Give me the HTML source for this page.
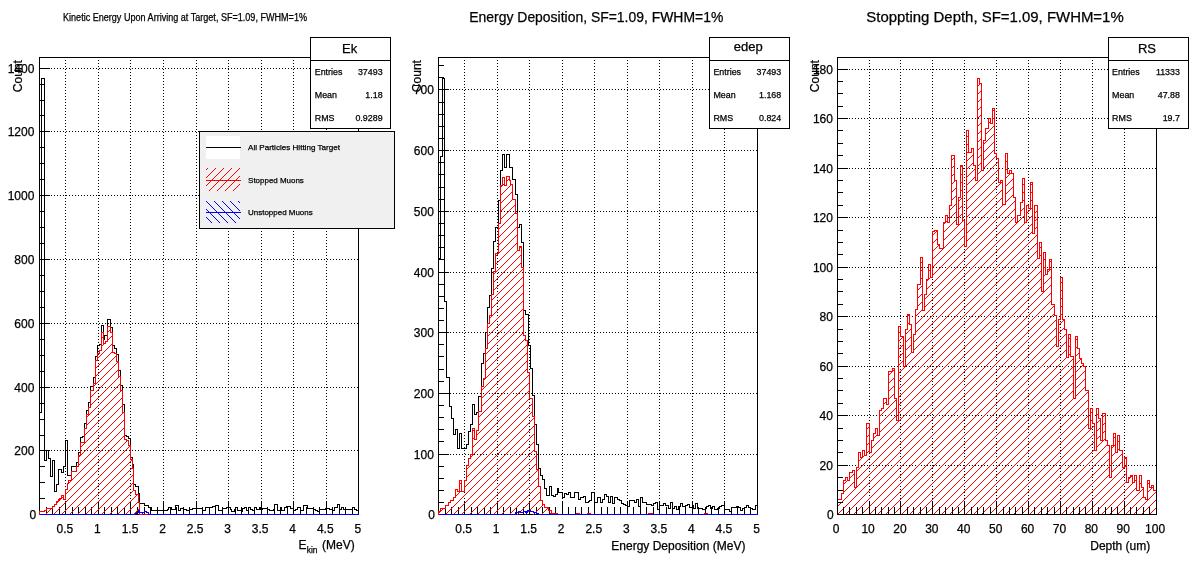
<!DOCTYPE html>
<html lang="en"><head><meta charset="utf-8"><title>Muon stopping histograms</title>
<style>html,body{margin:0;padding:0;background:#fff;}body{width:1196px;height:572px;overflow:hidden;}svg{display:block;}text{font-family:'Liberation Sans', Arial, Helvetica, sans-serif;fill:#000;stroke:#000;stroke-width:0.25px;}</style>
</head><body>
<svg width="1196" height="572" viewBox="0 0 1196 572">
<defs>
<pattern id="hr" width="8" height="8" patternUnits="userSpaceOnUse"><path d="M-1 9L9 -1M-9 9L1 -1M7 17L17 7" stroke="#f00" stroke-width="1" shape-rendering="crispEdges" fill="none"/></pattern>
<pattern id="hb" width="8" height="8" patternUnits="userSpaceOnUse" patternTransform="translate(5,0)"><path d="M-1 -1L9 9M-9 -1L1 9M7 -9L17 1" stroke="#00f" stroke-width="1" shape-rendering="crispEdges" fill="none"/></pattern>
</defs>
<rect width="1196" height="572" fill="#fff"/>
<g shape-rendering="crispEdges">
<rect x="39" y="57" width="320" height="1" fill="#000"/>
<rect x="39" y="514" width="320" height="1" fill="#000"/>
<rect x="39" y="57" width="1" height="458" fill="#000"/>
<rect x="358" y="57" width="1" height="458" fill="#000"/>
<g stroke="#000" stroke-width="1" stroke-dasharray="1 2" fill="none"><line x1="65.5" y1="57" x2="65.5" y2="514"/><line x1="98.5" y1="57" x2="98.5" y2="514"/><line x1="130.5" y1="57" x2="130.5" y2="514"/><line x1="163.5" y1="57" x2="163.5" y2="514"/><line x1="196.5" y1="57" x2="196.5" y2="514"/><line x1="228.5" y1="57" x2="228.5" y2="514"/><line x1="261.5" y1="57" x2="261.5" y2="514"/><line x1="293.5" y1="57" x2="293.5" y2="514"/><line x1="326.5" y1="57" x2="326.5" y2="514"/><line x1="39" y1="450.5" x2="358" y2="450.5"/><line x1="39" y1="387.5" x2="358" y2="387.5"/><line x1="39" y1="323.5" x2="358" y2="323.5"/><line x1="39" y1="259.5" x2="358" y2="259.5"/><line x1="39" y1="195.5" x2="358" y2="195.5"/><line x1="39" y1="131.5" x2="358" y2="131.5"/><line x1="39" y1="68.5" x2="358" y2="68.5"/></g>
</g>
<g shape-rendering="crispEdges">
<rect x="438" y="57" width="320" height="1" fill="#000"/>
<rect x="438" y="514" width="320" height="1" fill="#000"/>
<rect x="438" y="57" width="1" height="458" fill="#000"/>
<rect x="757" y="57" width="1" height="458" fill="#000"/>
<g stroke="#000" stroke-width="1" stroke-dasharray="1 2" fill="none"><line x1="464.5" y1="57" x2="464.5" y2="514"/><line x1="497.5" y1="57" x2="497.5" y2="514"/><line x1="529.5" y1="57" x2="529.5" y2="514"/><line x1="562.5" y1="57" x2="562.5" y2="514"/><line x1="594.5" y1="57" x2="594.5" y2="514"/><line x1="627.5" y1="57" x2="627.5" y2="514"/><line x1="659.5" y1="57" x2="659.5" y2="514"/><line x1="692.5" y1="57" x2="692.5" y2="514"/><line x1="724.5" y1="57" x2="724.5" y2="514"/><line x1="438" y1="454.5" x2="757" y2="454.5"/><line x1="438" y1="393.5" x2="757" y2="393.5"/><line x1="438" y1="332.5" x2="757" y2="332.5"/><line x1="438" y1="272.5" x2="757" y2="272.5"/><line x1="438" y1="211.5" x2="757" y2="211.5"/><line x1="438" y1="150.5" x2="757" y2="150.5"/><line x1="438" y1="89.5" x2="757" y2="89.5"/></g>
</g>
<g shape-rendering="crispEdges">
<rect x="837" y="57" width="320" height="1" fill="#000"/>
<rect x="837" y="514" width="320" height="1" fill="#000"/>
<rect x="837" y="57" width="1" height="458" fill="#000"/>
<rect x="1156" y="57" width="1" height="458" fill="#000"/>
<g stroke="#000" stroke-width="1" stroke-dasharray="1 2" fill="none"><line x1="869.5" y1="57" x2="869.5" y2="514"/><line x1="900.5" y1="57" x2="900.5" y2="514"/><line x1="932.5" y1="57" x2="932.5" y2="514"/><line x1="964.5" y1="57" x2="964.5" y2="514"/><line x1="996.5" y1="57" x2="996.5" y2="514"/><line x1="1028.5" y1="57" x2="1028.5" y2="514"/><line x1="1060.5" y1="57" x2="1060.5" y2="514"/><line x1="1092.5" y1="57" x2="1092.5" y2="514"/><line x1="1124.5" y1="57" x2="1124.5" y2="514"/><line x1="837" y1="465.5" x2="1156" y2="465.5"/><line x1="837" y1="415.5" x2="1156" y2="415.5"/><line x1="837" y1="366.5" x2="1156" y2="366.5"/><line x1="837" y1="316.5" x2="1156" y2="316.5"/><line x1="837" y1="267.5" x2="1156" y2="267.5"/><line x1="837" y1="217.5" x2="1156" y2="217.5"/><line x1="837" y1="168.5" x2="1156" y2="168.5"/><line x1="837" y1="118.5" x2="1156" y2="118.5"/><line x1="837" y1="69.5" x2="1156" y2="69.5"/></g>
</g>
<g shape-rendering="crispEdges">
<path d="M39.5 514.5V412.5H41.5V78.5H44.5V460.5H46.5V450.5H48.5V458.5H50.5V476.5H52.5V460.5H54.5V491.5H56.5V484.5H58.5V469.5H61.5V472.5H63.5V466.5H65.5V440.5H67.5V475.5H71.5V466.5H76.5V462.5H78.5V452.5H80.5V437.5H82.5V436.5H84.5V423.5H86.5V410.5H88.5V402.5H90.5V386.5H93.5V377.5H95.5V356.5H97.5V345.5H99.5V344.5H101.5V325.5H103.5V339.5H104.5V335.5H107.5V319.5H110.5V327.5H112.5V345.5H114.5V348.5H116.5V354.5H118.5V370.5H120.5V385.5H122.5V404.5H124.5V435.5H126.5V436.5H128.5V438.5H130.5V457.5H132.5V464.5H133.5V484.5H135.5V486.5H138.5V493.5H139.5V503.5H144.5V505.5H148.5V507.5H151.5V510.5H167.5V509.5H168.5V507.5H171.5V509.5H175.5V505.5H178.5V510.5H180.5V508.5H183.5V509.5H186.5V510.5H189.5V509.5H192.5V508.5H202.5V510.5H205.5V507.5H212.5V506.5H215.5V505.5H218.5V510.5H222.5V508.5H226.5V507.5H230.5V509.5H231.5V511.5H234.5V509.5H235.5V507.5H237.5V510.5H241.5V511.5H242.5V508.5H244.5V507.5H246.5V510.5H248.5V507.5H250.5V509.5H252.5V510.5H254.5V507.5H256.5V509.5H259.5V507.5H260.5V509.5H262.5V508.5H267.5V509.5H269.5V510.5H273.5V509.5H274.5V504.5H277.5V510.5H280.5V507.5H281.5V510.5H284.5V507.5H286.5V506.5H290.5V508.5H293.5V510.5H295.5V509.5H297.5V507.5H300.5V510.5H303.5V505.5H307.5V508.5H313.5V509.5H315.5V510.5H317.5V511.5H319.5V509.5H325.5V508.5H329.5V509.5H332.5V510.5H334.5V507.5H337.5V504.5H339.5V509.5H341.5V507.5H343.5V509.5H352.5V507.5H354.5V509.5H356.5V510.5H358.5V514.5" fill="none" stroke="#000" stroke-width="1"/>
<path d="M438.5 514.5V258.5H440.5V156.5H442.5V78.5H444.5V301.5H446.5V377.5H449.5V406.5H451.5V418.5H453.5V434.5H455.5V429.5H457.5V448.5H459.5V433.5H461.5V448.5H466.5V444.5H468.5V431.5H470.5V424.5H472.5V404.5H474.5V414.5H476.5V412.5H478.5V396.5H481.5V363.5H483.5V353.5H485.5V332.5H487.5V307.5H489.5V295.5H491.5V268.5H493.5V241.5H495.5V227.5H498.5V200.5H500.5V170.5H502.5V154.5H504.5V167.5H506.5V154.5H509.5V167.5H512.5V179.5H515.5V194.5H517.5V227.5H519.5V224.5H521.5V242.5H523.5V310.5H525.5V314.5H528.5V345.5H530.5V368.5H532.5V395.5H534.5V424.5H536.5V444.5H538.5V468.5H540.5V475.5H542.5V479.5H544.5V488.5H546.5V495.5H549.5V486.5H551.5V495.5H553.5V496.5H555.5V494.5H557.5V488.5H558.5V492.5H562.5V497.5H564.5V493.5H566.5V494.5H568.5V492.5H570.5V497.5H574.5V492.5H578.5V499.5H580.5V497.5H583.5V496.5H585.5V502.5H588.5V501.5H589.5V500.5H591.5V492.5H594.5V502.5H597.5V497.5H600.5V502.5H602.5V499.5H604.5V494.5H606.5V496.5H608.5V502.5H610.5V496.5H612.5V503.5H614.5V497.5H617.5V499.5H619.5V500.5H621.5V503.5H623.5V504.5H625.5V505.5H627.5V506.5H629.5V500.5H634.5V502.5H636.5V499.5H638.5V506.5H640.5V497.5H642.5V502.5H646.5V504.5H651.5V505.5H653.5V503.5H655.5V502.5H657.5V509.5H659.5V505.5H663.5V503.5H665.5V505.5H668.5V508.5H670.5V502.5H672.5V508.5H674.5V506.5H676.5V509.5H678.5V506.5H680.5V503.5H682.5V506.5H685.5V505.5H687.5V504.5H689.5V507.5H692.5V505.5H693.5V508.5H695.5V503.5H697.5V508.5H702.5V509.5H705.5V508.5H706.5V506.5H708.5V505.5H710.5V508.5H712.5V506.5H714.5V509.5H717.5V508.5H719.5V506.5H721.5V505.5H724.5V509.5H729.5V511.5H731.5V507.5H736.5V506.5H738.5V507.5H740.5V510.5H742.5V508.5H744.5V507.5H746.5V505.5H748.5V507.5H750.5V508.5H752.5V509.5H755.5V505.5H757.5V514.5" fill="none" stroke="#000" stroke-width="1"/>
<path d="M837.5 514.5V499.5H841.5V493.5H843.5V480.5H845.5V477.5H847.5V480.5H849.5V472.5H852.5V470.5H854.5V487.5H856.5V467.5H858.5V452.5H860.5V457.5H862.5V450.5H864.5V455.5H866.5V423.5H869.5V452.5H871.5V440.5H873.5V433.5H875.5V428.5H877.5V435.5H879.5V410.5H881.5V408.5H883.5V398.5H886.5V404.5H888.5V371.5H892.5V368.5H894.5V398.5H896.5V420.5H898.5V326.5H900.5V336.5H903.5V366.5H905.5V329.5H907.5V314.5H909.5V324.5H911.5V352.5H913.5V334.5H915.5V309.5H917.5V284.5H920.5V257.5H922.5V310.5H924.5V294.5H926.5V279.5H928.5V264.5H930.5V277.5H932.5V231.5H934.5V230.5H937.5V244.5H939.5V248.5H943.5V222.5H945.5V215.5H947.5V222.5H949.5V205.5H951.5V155.5H954.5V180.5H956.5V224.5H958.5V197.5H960.5V165.5H962.5V220.5H964.5V246.5H966.5V130.5H968.5V152.5H971.5V148.5H973.5V165.5H975.5V180.5H977.5V78.5H979.5V83.5H981.5V170.5H983.5V140.5H985.5V128.5H988.5V118.5H990.5V123.5H992.5V108.5H994.5V153.5H996.5V158.5H998.5V182.5H1000.5V180.5H1002.5V204.5H1005.5V153.5H1007.5V173.5H1009.5V170.5H1011.5V173.5H1013.5V197.5H1015.5V222.5H1017.5V215.5H1020.5V202.5H1022.5V178.5H1024.5V222.5H1026.5V205.5H1028.5V208.5H1030.5V182.5H1032.5V233.5H1034.5V205.5H1037.5V258.5H1039.5V242.5H1041.5V291.5H1043.5V252.5H1045.5V274.5H1047.5V269.5H1049.5V259.5H1051.5V304.5H1054.5V315.5H1056.5V346.5H1058.5V319.5H1060.5V277.5H1062.5V319.5H1064.5V329.5H1066.5V357.5H1068.5V334.5H1070.5V356.5H1073.5V398.5H1075.5V336.5H1077.5V348.5H1079.5V358.5H1081.5V363.5H1083.5V366.5H1085.5V390.5H1088.5V428.5H1090.5V408.5H1092.5V423.5H1094.5V450.5H1096.5V408.5H1098.5V418.5H1100.5V440.5H1102.5V413.5H1105.5V440.5H1107.5V445.5H1109.5V477.5H1111.5V445.5H1113.5V433.5H1115.5V452.5H1117.5V435.5H1119.5V450.5H1122.5V467.5H1124.5V457.5H1126.5V482.5H1128.5V477.5H1130.5V475.5H1132.5V482.5H1134.5V475.5H1136.5V490.5H1139.5V475.5H1141.5V487.5H1143.5V497.5H1145.5V499.5H1147.5V480.5H1149.5V487.5H1151.5V485.5H1153.5V490.5H1156.5V514.5Z" fill="url(#hr)" stroke="none"/><path d="M837.5 514.5V499.5H841.5V493.5H843.5V480.5H845.5V477.5H847.5V480.5H849.5V472.5H852.5V470.5H854.5V487.5H856.5V467.5H858.5V452.5H860.5V457.5H862.5V450.5H864.5V455.5H866.5V423.5H869.5V452.5H871.5V440.5H873.5V433.5H875.5V428.5H877.5V435.5H879.5V410.5H881.5V408.5H883.5V398.5H886.5V404.5H888.5V371.5H892.5V368.5H894.5V398.5H896.5V420.5H898.5V326.5H900.5V336.5H903.5V366.5H905.5V329.5H907.5V314.5H909.5V324.5H911.5V352.5H913.5V334.5H915.5V309.5H917.5V284.5H920.5V257.5H922.5V310.5H924.5V294.5H926.5V279.5H928.5V264.5H930.5V277.5H932.5V231.5H934.5V230.5H937.5V244.5H939.5V248.5H943.5V222.5H945.5V215.5H947.5V222.5H949.5V205.5H951.5V155.5H954.5V180.5H956.5V224.5H958.5V197.5H960.5V165.5H962.5V220.5H964.5V246.5H966.5V130.5H968.5V152.5H971.5V148.5H973.5V165.5H975.5V180.5H977.5V78.5H979.5V83.5H981.5V170.5H983.5V140.5H985.5V128.5H988.5V118.5H990.5V123.5H992.5V108.5H994.5V153.5H996.5V158.5H998.5V182.5H1000.5V180.5H1002.5V204.5H1005.5V153.5H1007.5V173.5H1009.5V170.5H1011.5V173.5H1013.5V197.5H1015.5V222.5H1017.5V215.5H1020.5V202.5H1022.5V178.5H1024.5V222.5H1026.5V205.5H1028.5V208.5H1030.5V182.5H1032.5V233.5H1034.5V205.5H1037.5V258.5H1039.5V242.5H1041.5V291.5H1043.5V252.5H1045.5V274.5H1047.5V269.5H1049.5V259.5H1051.5V304.5H1054.5V315.5H1056.5V346.5H1058.5V319.5H1060.5V277.5H1062.5V319.5H1064.5V329.5H1066.5V357.5H1068.5V334.5H1070.5V356.5H1073.5V398.5H1075.5V336.5H1077.5V348.5H1079.5V358.5H1081.5V363.5H1083.5V366.5H1085.5V390.5H1088.5V428.5H1090.5V408.5H1092.5V423.5H1094.5V450.5H1096.5V408.5H1098.5V418.5H1100.5V440.5H1102.5V413.5H1105.5V440.5H1107.5V445.5H1109.5V477.5H1111.5V445.5H1113.5V433.5H1115.5V452.5H1117.5V435.5H1119.5V450.5H1122.5V467.5H1124.5V457.5H1126.5V482.5H1128.5V477.5H1130.5V475.5H1132.5V482.5H1134.5V475.5H1136.5V490.5H1139.5V475.5H1141.5V487.5H1143.5V497.5H1145.5V499.5H1147.5V480.5H1149.5V487.5H1151.5V485.5H1153.5V490.5H1156.5V514.5" fill="none" stroke="#f00" stroke-width="1"/>
</g>
<g shape-rendering="crispEdges"><rect x="39" y="57" width="1" height="458" fill="#000"/><rect x="358" y="57" width="1" height="458" fill="#000"/><rect x="39" y="514" width="320" height="1" fill="#000"/><rect x="46" y="507" width="1" height="8" fill="#000"/><rect x="52" y="507" width="1" height="8" fill="#000"/><rect x="59" y="507" width="1" height="8" fill="#000"/><rect x="65" y="501" width="1" height="14" fill="#000"/><rect x="72" y="507" width="1" height="8" fill="#000"/><rect x="78" y="507" width="1" height="8" fill="#000"/><rect x="85" y="507" width="1" height="8" fill="#000"/><rect x="91" y="507" width="1" height="8" fill="#000"/><rect x="98" y="501" width="1" height="14" fill="#000"/><rect x="104" y="507" width="1" height="8" fill="#000"/><rect x="111" y="507" width="1" height="8" fill="#000"/><rect x="117" y="507" width="1" height="8" fill="#000"/><rect x="124" y="507" width="1" height="8" fill="#000"/><rect x="130" y="501" width="1" height="14" fill="#000"/><rect x="137" y="507" width="1" height="8" fill="#000"/><rect x="144" y="507" width="1" height="8" fill="#000"/><rect x="150" y="507" width="1" height="8" fill="#000"/><rect x="157" y="507" width="1" height="8" fill="#000"/><rect x="163" y="501" width="1" height="14" fill="#000"/><rect x="170" y="507" width="1" height="8" fill="#000"/><rect x="176" y="507" width="1" height="8" fill="#000"/><rect x="183" y="507" width="1" height="8" fill="#000"/><rect x="189" y="507" width="1" height="8" fill="#000"/><rect x="196" y="501" width="1" height="14" fill="#000"/><rect x="202" y="507" width="1" height="8" fill="#000"/><rect x="209" y="507" width="1" height="8" fill="#000"/><rect x="215" y="507" width="1" height="8" fill="#000"/><rect x="222" y="507" width="1" height="8" fill="#000"/><rect x="228" y="501" width="1" height="14" fill="#000"/><rect x="235" y="507" width="1" height="8" fill="#000"/><rect x="241" y="507" width="1" height="8" fill="#000"/><rect x="248" y="507" width="1" height="8" fill="#000"/><rect x="254" y="507" width="1" height="8" fill="#000"/><rect x="261" y="501" width="1" height="14" fill="#000"/><rect x="267" y="507" width="1" height="8" fill="#000"/><rect x="274" y="507" width="1" height="8" fill="#000"/><rect x="280" y="507" width="1" height="8" fill="#000"/><rect x="287" y="507" width="1" height="8" fill="#000"/><rect x="293" y="501" width="1" height="14" fill="#000"/><rect x="300" y="507" width="1" height="8" fill="#000"/><rect x="306" y="507" width="1" height="8" fill="#000"/><rect x="313" y="507" width="1" height="8" fill="#000"/><rect x="319" y="507" width="1" height="8" fill="#000"/><rect x="326" y="501" width="1" height="14" fill="#000"/><rect x="332" y="507" width="1" height="8" fill="#000"/><rect x="339" y="507" width="1" height="8" fill="#000"/><rect x="345" y="507" width="1" height="8" fill="#000"/><rect x="352" y="507" width="1" height="8" fill="#000"/><rect x="358" y="501" width="1" height="14" fill="#000"/><rect x="39" y="498" width="6" height="1" fill="#000"/><rect x="39" y="482" width="6" height="1" fill="#000"/><rect x="39" y="466" width="6" height="1" fill="#000"/><rect x="39" y="450" width="11" height="1" fill="#000"/><rect x="39" y="435" width="6" height="1" fill="#000"/><rect x="39" y="419" width="6" height="1" fill="#000"/><rect x="39" y="403" width="6" height="1" fill="#000"/><rect x="39" y="387" width="11" height="1" fill="#000"/><rect x="39" y="371" width="6" height="1" fill="#000"/><rect x="39" y="355" width="6" height="1" fill="#000"/><rect x="39" y="339" width="6" height="1" fill="#000"/><rect x="39" y="323" width="11" height="1" fill="#000"/><rect x="39" y="307" width="6" height="1" fill="#000"/><rect x="39" y="291" width="6" height="1" fill="#000"/><rect x="39" y="275" width="6" height="1" fill="#000"/><rect x="39" y="259" width="11" height="1" fill="#000"/><rect x="39" y="243" width="6" height="1" fill="#000"/><rect x="39" y="227" width="6" height="1" fill="#000"/><rect x="39" y="211" width="6" height="1" fill="#000"/><rect x="39" y="195" width="11" height="1" fill="#000"/><rect x="39" y="179" width="6" height="1" fill="#000"/><rect x="39" y="163" width="6" height="1" fill="#000"/><rect x="39" y="147" width="6" height="1" fill="#000"/><rect x="39" y="131" width="11" height="1" fill="#000"/><rect x="39" y="115" width="6" height="1" fill="#000"/><rect x="39" y="100" width="6" height="1" fill="#000"/><rect x="39" y="84" width="6" height="1" fill="#000"/><rect x="39" y="68" width="11" height="1" fill="#000"/></g>
<g shape-rendering="crispEdges"><rect x="438" y="57" width="1" height="458" fill="#000"/><rect x="757" y="57" width="1" height="458" fill="#000"/><rect x="438" y="514" width="320" height="1" fill="#000"/><rect x="445" y="507" width="1" height="8" fill="#000"/><rect x="451" y="507" width="1" height="8" fill="#000"/><rect x="458" y="507" width="1" height="8" fill="#000"/><rect x="464" y="501" width="1" height="14" fill="#000"/><rect x="471" y="507" width="1" height="8" fill="#000"/><rect x="477" y="507" width="1" height="8" fill="#000"/><rect x="484" y="507" width="1" height="8" fill="#000"/><rect x="490" y="507" width="1" height="8" fill="#000"/><rect x="497" y="501" width="1" height="14" fill="#000"/><rect x="503" y="507" width="1" height="8" fill="#000"/><rect x="510" y="507" width="1" height="8" fill="#000"/><rect x="516" y="507" width="1" height="8" fill="#000"/><rect x="523" y="507" width="1" height="8" fill="#000"/><rect x="529" y="501" width="1" height="14" fill="#000"/><rect x="536" y="507" width="1" height="8" fill="#000"/><rect x="542" y="507" width="1" height="8" fill="#000"/><rect x="549" y="507" width="1" height="8" fill="#000"/><rect x="555" y="507" width="1" height="8" fill="#000"/><rect x="562" y="501" width="1" height="14" fill="#000"/><rect x="568" y="507" width="1" height="8" fill="#000"/><rect x="575" y="507" width="1" height="8" fill="#000"/><rect x="581" y="507" width="1" height="8" fill="#000"/><rect x="588" y="507" width="1" height="8" fill="#000"/><rect x="594" y="501" width="1" height="14" fill="#000"/><rect x="601" y="507" width="1" height="8" fill="#000"/><rect x="607" y="507" width="1" height="8" fill="#000"/><rect x="614" y="507" width="1" height="8" fill="#000"/><rect x="620" y="507" width="1" height="8" fill="#000"/><rect x="627" y="501" width="1" height="14" fill="#000"/><rect x="633" y="507" width="1" height="8" fill="#000"/><rect x="640" y="507" width="1" height="8" fill="#000"/><rect x="646" y="507" width="1" height="8" fill="#000"/><rect x="653" y="507" width="1" height="8" fill="#000"/><rect x="659" y="501" width="1" height="14" fill="#000"/><rect x="666" y="507" width="1" height="8" fill="#000"/><rect x="672" y="507" width="1" height="8" fill="#000"/><rect x="679" y="507" width="1" height="8" fill="#000"/><rect x="685" y="507" width="1" height="8" fill="#000"/><rect x="692" y="501" width="1" height="14" fill="#000"/><rect x="698" y="507" width="1" height="8" fill="#000"/><rect x="705" y="507" width="1" height="8" fill="#000"/><rect x="711" y="507" width="1" height="8" fill="#000"/><rect x="718" y="507" width="1" height="8" fill="#000"/><rect x="724" y="501" width="1" height="14" fill="#000"/><rect x="731" y="507" width="1" height="8" fill="#000"/><rect x="737" y="507" width="1" height="8" fill="#000"/><rect x="744" y="507" width="1" height="8" fill="#000"/><rect x="750" y="507" width="1" height="8" fill="#000"/><rect x="757" y="501" width="1" height="14" fill="#000"/><rect x="438" y="502" width="6" height="1" fill="#000"/><rect x="438" y="490" width="6" height="1" fill="#000"/><rect x="438" y="478" width="6" height="1" fill="#000"/><rect x="438" y="466" width="6" height="1" fill="#000"/><rect x="438" y="454" width="11" height="1" fill="#000"/><rect x="438" y="441" width="6" height="1" fill="#000"/><rect x="438" y="429" width="6" height="1" fill="#000"/><rect x="438" y="417" width="6" height="1" fill="#000"/><rect x="438" y="405" width="6" height="1" fill="#000"/><rect x="438" y="393" width="11" height="1" fill="#000"/><rect x="438" y="381" width="6" height="1" fill="#000"/><rect x="438" y="369" width="6" height="1" fill="#000"/><rect x="438" y="356" width="6" height="1" fill="#000"/><rect x="438" y="344" width="6" height="1" fill="#000"/><rect x="438" y="332" width="11" height="1" fill="#000"/><rect x="438" y="320" width="6" height="1" fill="#000"/><rect x="438" y="308" width="6" height="1" fill="#000"/><rect x="438" y="296" width="6" height="1" fill="#000"/><rect x="438" y="284" width="6" height="1" fill="#000"/><rect x="438" y="272" width="11" height="1" fill="#000"/><rect x="438" y="259" width="6" height="1" fill="#000"/><rect x="438" y="247" width="6" height="1" fill="#000"/><rect x="438" y="235" width="6" height="1" fill="#000"/><rect x="438" y="223" width="6" height="1" fill="#000"/><rect x="438" y="211" width="11" height="1" fill="#000"/><rect x="438" y="199" width="6" height="1" fill="#000"/><rect x="438" y="187" width="6" height="1" fill="#000"/><rect x="438" y="174" width="6" height="1" fill="#000"/><rect x="438" y="162" width="6" height="1" fill="#000"/><rect x="438" y="150" width="11" height="1" fill="#000"/><rect x="438" y="138" width="6" height="1" fill="#000"/><rect x="438" y="126" width="6" height="1" fill="#000"/><rect x="438" y="114" width="6" height="1" fill="#000"/><rect x="438" y="102" width="6" height="1" fill="#000"/><rect x="438" y="89" width="11" height="1" fill="#000"/><rect x="438" y="77" width="6" height="1" fill="#000"/><rect x="438" y="65" width="6" height="1" fill="#000"/></g>
<g shape-rendering="crispEdges"><rect x="837" y="57" width="1" height="458" fill="#000"/><rect x="1156" y="57" width="1" height="458" fill="#000"/><rect x="837" y="514" width="320" height="1" fill="#000"/><rect x="837" y="501" width="1" height="14" fill="#000"/><rect x="843" y="507" width="1" height="8" fill="#000"/><rect x="849" y="507" width="1" height="8" fill="#000"/><rect x="856" y="507" width="1" height="8" fill="#000"/><rect x="862" y="507" width="1" height="8" fill="#000"/><rect x="869" y="501" width="1" height="14" fill="#000"/><rect x="875" y="507" width="1" height="8" fill="#000"/><rect x="881" y="507" width="1" height="8" fill="#000"/><rect x="888" y="507" width="1" height="8" fill="#000"/><rect x="894" y="507" width="1" height="8" fill="#000"/><rect x="900" y="501" width="1" height="14" fill="#000"/><rect x="907" y="507" width="1" height="8" fill="#000"/><rect x="913" y="507" width="1" height="8" fill="#000"/><rect x="920" y="507" width="1" height="8" fill="#000"/><rect x="926" y="507" width="1" height="8" fill="#000"/><rect x="932" y="501" width="1" height="14" fill="#000"/><rect x="939" y="507" width="1" height="8" fill="#000"/><rect x="945" y="507" width="1" height="8" fill="#000"/><rect x="952" y="507" width="1" height="8" fill="#000"/><rect x="958" y="507" width="1" height="8" fill="#000"/><rect x="964" y="501" width="1" height="14" fill="#000"/><rect x="971" y="507" width="1" height="8" fill="#000"/><rect x="977" y="507" width="1" height="8" fill="#000"/><rect x="983" y="507" width="1" height="8" fill="#000"/><rect x="990" y="507" width="1" height="8" fill="#000"/><rect x="996" y="501" width="1" height="14" fill="#000"/><rect x="1003" y="507" width="1" height="8" fill="#000"/><rect x="1009" y="507" width="1" height="8" fill="#000"/><rect x="1015" y="507" width="1" height="8" fill="#000"/><rect x="1022" y="507" width="1" height="8" fill="#000"/><rect x="1028" y="501" width="1" height="14" fill="#000"/><rect x="1034" y="507" width="1" height="8" fill="#000"/><rect x="1041" y="507" width="1" height="8" fill="#000"/><rect x="1047" y="507" width="1" height="8" fill="#000"/><rect x="1054" y="507" width="1" height="8" fill="#000"/><rect x="1060" y="501" width="1" height="14" fill="#000"/><rect x="1066" y="507" width="1" height="8" fill="#000"/><rect x="1073" y="507" width="1" height="8" fill="#000"/><rect x="1079" y="507" width="1" height="8" fill="#000"/><rect x="1085" y="507" width="1" height="8" fill="#000"/><rect x="1092" y="501" width="1" height="14" fill="#000"/><rect x="1098" y="507" width="1" height="8" fill="#000"/><rect x="1105" y="507" width="1" height="8" fill="#000"/><rect x="1111" y="507" width="1" height="8" fill="#000"/><rect x="1117" y="507" width="1" height="8" fill="#000"/><rect x="1124" y="501" width="1" height="14" fill="#000"/><rect x="1130" y="507" width="1" height="8" fill="#000"/><rect x="1136" y="507" width="1" height="8" fill="#000"/><rect x="1143" y="507" width="1" height="8" fill="#000"/><rect x="1149" y="507" width="1" height="8" fill="#000"/><rect x="1156" y="501" width="1" height="14" fill="#000"/><rect x="837" y="502" width="6" height="1" fill="#000"/><rect x="837" y="490" width="6" height="1" fill="#000"/><rect x="837" y="477" width="6" height="1" fill="#000"/><rect x="837" y="465" width="11" height="1" fill="#000"/><rect x="837" y="452" width="6" height="1" fill="#000"/><rect x="837" y="440" width="6" height="1" fill="#000"/><rect x="837" y="428" width="6" height="1" fill="#000"/><rect x="837" y="415" width="11" height="1" fill="#000"/><rect x="837" y="403" width="6" height="1" fill="#000"/><rect x="837" y="390" width="6" height="1" fill="#000"/><rect x="837" y="378" width="6" height="1" fill="#000"/><rect x="837" y="366" width="11" height="1" fill="#000"/><rect x="837" y="353" width="6" height="1" fill="#000"/><rect x="837" y="341" width="6" height="1" fill="#000"/><rect x="837" y="329" width="6" height="1" fill="#000"/><rect x="837" y="316" width="11" height="1" fill="#000"/><rect x="837" y="304" width="6" height="1" fill="#000"/><rect x="837" y="291" width="6" height="1" fill="#000"/><rect x="837" y="279" width="6" height="1" fill="#000"/><rect x="837" y="267" width="11" height="1" fill="#000"/><rect x="837" y="254" width="6" height="1" fill="#000"/><rect x="837" y="242" width="6" height="1" fill="#000"/><rect x="837" y="230" width="6" height="1" fill="#000"/><rect x="837" y="217" width="11" height="1" fill="#000"/><rect x="837" y="205" width="6" height="1" fill="#000"/><rect x="837" y="192" width="6" height="1" fill="#000"/><rect x="837" y="180" width="6" height="1" fill="#000"/><rect x="837" y="168" width="11" height="1" fill="#000"/><rect x="837" y="155" width="6" height="1" fill="#000"/><rect x="837" y="143" width="6" height="1" fill="#000"/><rect x="837" y="130" width="6" height="1" fill="#000"/><rect x="837" y="118" width="11" height="1" fill="#000"/><rect x="837" y="106" width="6" height="1" fill="#000"/><rect x="837" y="93" width="6" height="1" fill="#000"/><rect x="837" y="81" width="6" height="1" fill="#000"/><rect x="837" y="69" width="11" height="1" fill="#000"/></g>
<g shape-rendering="crispEdges">
<path d="M39.5 514.5V511.5H44.5V510.5H46.5V508.5H52.5V506.5H54.5V504.5H56.5V501.5H58.5V499.5H59.5V498.5H61.5V495.5H63.5V499.5H65.5V489.5H67.5V483.5H68.5V480.5H71.5V471.5H76.5V466.5H78.5V455.5H80.5V442.5H84.5V428.5H86.5V414.5H88.5V407.5H90.5V390.5H93.5V383.5H95.5V360.5H97.5V353.5H99.5V350.5H101.5V332.5H103.5V343.5H105.5V341.5H107.5V326.5H110.5V332.5H112.5V352.5H114.5V353.5H116.5V361.5H118.5V376.5H120.5V390.5H122.5V412.5H124.5V439.5H126.5V440.5H128.5V445.5H130.5V459.5H132.5V468.5H133.5V490.5H135.5V494.5H138.5V502.5H139.5V514.5H358.5V514.5Z" fill="url(#hr)" stroke="none"/><path d="M39.5 514.5V511.5H44.5V510.5H46.5V508.5H52.5V506.5H54.5V504.5H56.5V501.5H58.5V499.5H59.5V498.5H61.5V495.5H63.5V499.5H65.5V489.5H67.5V483.5H68.5V480.5H71.5V471.5H76.5V466.5H78.5V455.5H80.5V442.5H84.5V428.5H86.5V414.5H88.5V407.5H90.5V390.5H93.5V383.5H95.5V360.5H97.5V353.5H99.5V350.5H101.5V332.5H103.5V343.5H105.5V341.5H107.5V326.5H110.5V332.5H112.5V352.5H114.5V353.5H116.5V361.5H118.5V376.5H120.5V390.5H122.5V412.5H124.5V439.5H126.5V440.5H128.5V445.5H130.5V459.5H132.5V468.5H133.5V490.5H135.5V494.5H138.5V502.5H139.5V514.5H358.5V514.5" fill="none" stroke="#f00" stroke-width="1"/>
<path d="M39.5 514.5H135.5V513.5H136.5V512.5H138.5V510.5H139.5V512.5H144.5V511.5H146.5V512.5H148.5V514.5H358.5V514.5Z" fill="url(#hb)" stroke="none"/><path d="M39.5 514.5H135.5V513.5H136.5V512.5H138.5V510.5H139.5V512.5H144.5V511.5H146.5V512.5H148.5V514.5H358.5V514.5" fill="none" stroke="#00f" stroke-width="1"/>
<path d="M438.5 514.5V511.5H440.5V508.5H445.5V505.5H448.5V502.5H450.5V500.5H453.5V497.5H455.5V489.5H457.5V491.5H459.5V480.5H461.5V491.5H464.5V480.5H466.5V465.5H468.5V458.5H470.5V454.5H472.5V428.5H474.5V439.5H476.5V430.5H478.5V411.5H481.5V386.5H483.5V378.5H485.5V348.5H487.5V323.5H489.5V315.5H491.5V294.5H493.5V271.5H495.5V253.5H498.5V223.5H500.5V185.5H502.5V177.5H504.5V185.5H506.5V176.5H509.5V180.5H510.5V184.5H512.5V199.5H515.5V213.5H517.5V250.5H519.5V246.5H521.5V267.5H523.5V335.5H525.5V340.5H527.5V372.5H529.5V398.5H532.5V416.5H534.5V451.5H536.5V469.5H538.5V486.5H540.5V500.5H542.5V504.5H544.5V507.5H548.5V510.5H551.5V513.5H557.5V514.5H576.5V513.5H579.5V514.5H587.5V513.5H590.5V514.5H648.5V513.5H652.5V514.5H704.5V513.5H707.5V514.5H757.5V514.5Z" fill="url(#hr)" stroke="none"/><path d="M438.5 514.5V511.5H440.5V508.5H445.5V505.5H448.5V502.5H450.5V500.5H453.5V497.5H455.5V489.5H457.5V491.5H459.5V480.5H461.5V491.5H464.5V480.5H466.5V465.5H468.5V458.5H470.5V454.5H472.5V428.5H474.5V439.5H476.5V430.5H478.5V411.5H481.5V386.5H483.5V378.5H485.5V348.5H487.5V323.5H489.5V315.5H491.5V294.5H493.5V271.5H495.5V253.5H498.5V223.5H500.5V185.5H502.5V177.5H504.5V185.5H506.5V176.5H509.5V180.5H510.5V184.5H512.5V199.5H515.5V213.5H517.5V250.5H519.5V246.5H521.5V267.5H523.5V335.5H525.5V340.5H527.5V372.5H529.5V398.5H532.5V416.5H534.5V451.5H536.5V469.5H538.5V486.5H540.5V500.5H542.5V504.5H544.5V507.5H548.5V510.5H551.5V513.5H557.5V514.5H576.5V513.5H579.5V514.5H587.5V513.5H590.5V514.5H648.5V513.5H652.5V514.5H704.5V513.5H707.5V514.5H757.5V514.5" fill="none" stroke="#f00" stroke-width="1"/>
<path d="M438.5 514.5H515.5V512.5H518.5V511.5H520.5V512.5H523.5V511.5H526.5V512.5H527.5V510.5H530.5V511.5H533.5V512.5H536.5V513.5H538.5V514.5H757.5V514.5Z" fill="url(#hb)" stroke="none"/><path d="M438.5 514.5H515.5V512.5H518.5V511.5H520.5V512.5H523.5V511.5H526.5V512.5H527.5V510.5H530.5V511.5H533.5V512.5H536.5V513.5H538.5V514.5H757.5V514.5" fill="none" stroke="#00f" stroke-width="1"/>
</g>
<g font-size="12" stroke="#000" stroke-width="0.25"><text x="64.9" y="532.8" text-anchor="middle">0.5</text><text x="97.45" y="532.8" text-anchor="middle">1</text><text x="129.99" y="532.8" text-anchor="middle">1.5</text><text x="162.53" y="532.8" text-anchor="middle">2</text><text x="195.08" y="532.8" text-anchor="middle">2.5</text><text x="227.62" y="532.8" text-anchor="middle">3</text><text x="260.17" y="532.8" text-anchor="middle">3.5</text><text x="292.71" y="532.8" text-anchor="middle">4</text><text x="325.26" y="532.8" text-anchor="middle">4.5</text><text x="357.8" y="532.8" text-anchor="middle">5</text><text x="36.27" y="518.85" text-anchor="end">0</text><text x="34.37" y="454.85" text-anchor="end">200</text><text x="34.37" y="391.85" text-anchor="end">400</text><text x="34.37" y="327.85" text-anchor="end">600</text><text x="34.37" y="263.85" text-anchor="end">800</text><text x="34.37" y="199.85" text-anchor="end">1000</text><text x="34.37" y="135.85" text-anchor="end">1200</text><text x="34.37" y="72.85" text-anchor="end">1400</text></g>
<text font-size="12" stroke="#000" stroke-width="0.25" transform="translate(22.1,60.1) rotate(-90)" text-anchor="end">Count</text>
<text x="63" y="21.2" font-size="10" textLength="244" lengthAdjust="spacingAndGlyphs">Kinetic Energy Upon Arriving at Target, SF=1.09, FWHM=1%</text>
<g font-size="12" stroke="#000" stroke-width="0.25"><text x="463.57" y="532.8" text-anchor="middle">0.5</text><text x="496.11" y="532.8" text-anchor="middle">1</text><text x="528.66" y="532.8" text-anchor="middle">1.5</text><text x="561.2" y="532.8" text-anchor="middle">2</text><text x="593.75" y="532.8" text-anchor="middle">2.5</text><text x="626.29" y="532.8" text-anchor="middle">3</text><text x="658.83" y="532.8" text-anchor="middle">3.5</text><text x="691.38" y="532.8" text-anchor="middle">4</text><text x="723.92" y="532.8" text-anchor="middle">4.5</text><text x="756.47" y="532.8" text-anchor="middle">5</text><text x="434.93" y="518.85" text-anchor="end">0</text><text x="433.88" y="458.85" text-anchor="end">100</text><text x="433.88" y="397.85" text-anchor="end">200</text><text x="433.88" y="336.85" text-anchor="end">300</text><text x="433.88" y="276.85" text-anchor="end">400</text><text x="433.88" y="215.85" text-anchor="end">500</text><text x="433.88" y="154.85" text-anchor="end">600</text><text x="433.88" y="93.85" text-anchor="end">700</text></g>
<text font-size="12" stroke="#000" stroke-width="0.25" transform="translate(420.77,60.1) rotate(-90)" text-anchor="end">Count</text>
<text x="469.3" y="21.5" font-size="14.6" textLength="254" lengthAdjust="spacingAndGlyphs">Energy Deposition, SF=1.09, FWHM=1%</text>
<g font-size="12" stroke="#000" stroke-width="0.25"><text x="836.2" y="532.8" text-anchor="middle">0</text><text x="868.09" y="532.8" text-anchor="middle">10</text><text x="899.99" y="532.8" text-anchor="middle">20</text><text x="931.88" y="532.8" text-anchor="middle">30</text><text x="963.77" y="532.8" text-anchor="middle">40</text><text x="995.67" y="532.8" text-anchor="middle">50</text><text x="1027.56" y="532.8" text-anchor="middle">60</text><text x="1059.45" y="532.8" text-anchor="middle">70</text><text x="1091.35" y="532.8" text-anchor="middle">80</text><text x="1123.24" y="532.8" text-anchor="middle">90</text><text x="1155.13" y="532.8" text-anchor="middle">100</text><text x="833.6" y="518.85" text-anchor="end">0</text><text x="832.95" y="469.85" text-anchor="end">20</text><text x="832.95" y="419.85" text-anchor="end">40</text><text x="832.95" y="370.85" text-anchor="end">60</text><text x="832.95" y="320.85" text-anchor="end">80</text><text x="832.95" y="271.85" text-anchor="end">100</text><text x="832.95" y="221.85" text-anchor="end">120</text><text x="832.95" y="172.85" text-anchor="end">140</text><text x="832.95" y="122.85" text-anchor="end">160</text><text x="832.95" y="73.85" text-anchor="end">180</text></g>
<text font-size="12" stroke="#000" stroke-width="0.25" transform="translate(819.43,60.1) rotate(-90)" text-anchor="end">Count</text>
<text x="866.3" y="21.5" font-size="14.6" textLength="257.4" lengthAdjust="spacingAndGlyphs">Stoppting Depth, SF=1.09, FWHM=1%</text>
<text font-size="12" stroke="#000" stroke-width="0.25" x="298.4" y="548.7">E<tspan font-size="8.4" dx="0.4" dy="4.7">kin</tspan></text>
<text font-size="12" stroke="#000" stroke-width="0.25" x="354.7" y="548.7" text-anchor="end">(MeV)</text>
<text font-size="12" stroke="#000" stroke-width="0.25" x="745.4" y="549.9" text-anchor="end">Energy Deposition (MeV)</text>
<text font-size="12" stroke="#000" stroke-width="0.25" x="1150.3" y="549.9" text-anchor="end">Depth (um)</text>
<g shape-rendering="crispEdges">
<rect x="199" y="131" width="196" height="98" fill="#f0f0f0"/>
<rect x="199" y="131" width="196" height="1" fill="#000"/>
<rect x="199" y="228" width="196" height="1" fill="#000"/>
<rect x="199" y="131" width="1" height="98" fill="#000"/>
<rect x="394" y="131" width="1" height="98" fill="#000"/>
<rect x="206" y="136" width="34" height="23" fill="#fff"/>
<rect x="206" y="147" width="35" height="1" fill="#000"/>
<rect x="206" y="168" width="34" height="23" fill="url(#hr)"/>
<rect x="206" y="180" width="35" height="1" fill="#f00"/>
<rect x="206" y="201" width="34" height="22" fill="url(#hb)"/>
<rect x="206" y="212" width="35" height="1" fill="#00f"/>
</g>
<text font-size="8.1" x="248.07" y="149.87" textLength="91.9" lengthAdjust="spacingAndGlyphs">All Particles Hitting Target</text>
<text font-size="8.1" x="248.07" y="182.78" textLength="55.8" lengthAdjust="spacingAndGlyphs">Stopped Muons</text>
<text font-size="8.1" x="248.07" y="215.39" textLength="64.6" lengthAdjust="spacingAndGlyphs">Unstopped Muons</text>
<g shape-rendering="crispEdges">
<rect x="310" y="37" width="81" height="92" fill="#fff"/>
<rect x="310" y="37" width="81" height="1" fill="#000"/>
<rect x="310" y="128" width="81" height="1" fill="#000"/>
<rect x="310" y="37" width="1" height="92" fill="#000"/>
<rect x="390" y="37" width="1" height="92" fill="#000"/>
<rect x="310" y="60" width="81" height="1" fill="#000"/>
</g>
<text font-size="13" x="349.63" y="53.32" text-anchor="middle">Ek</text>
<text font-size="8.9" x="314.76" y="74.7">Entries</text>
<text font-size="8.9" x="382.59" y="74.7" text-anchor="end">37493</text>
<text font-size="8.9" x="314.76" y="97.8">Mean</text>
<text font-size="8.9" x="382.59" y="97.8" text-anchor="end">1.18</text>
<text font-size="8.9" x="314.76" y="120.8">RMS</text>
<text font-size="8.9" x="382.59" y="120.8" text-anchor="end">0.9289</text>
<g shape-rendering="crispEdges">
<rect x="709" y="37" width="81" height="92" fill="#fff"/>
<rect x="709" y="37" width="81" height="1" fill="#000"/>
<rect x="709" y="128" width="81" height="1" fill="#000"/>
<rect x="709" y="37" width="1" height="92" fill="#000"/>
<rect x="789" y="37" width="1" height="92" fill="#000"/>
<rect x="709" y="60" width="81" height="1" fill="#000"/>
</g>
<text font-size="13" x="748.29" y="51.32" text-anchor="middle">edep</text>
<text font-size="8.9" x="713.43" y="74.7">Entries</text>
<text font-size="8.9" x="781.26" y="74.7" text-anchor="end">37493</text>
<text font-size="8.9" x="713.43" y="97.8">Mean</text>
<text font-size="8.9" x="781.26" y="97.8" text-anchor="end">1.168</text>
<text font-size="8.9" x="713.43" y="120.8">RMS</text>
<text font-size="8.9" x="781.26" y="120.8" text-anchor="end">0.824</text>
<g shape-rendering="crispEdges">
<rect x="1108" y="37" width="81" height="92" fill="#fff"/>
<rect x="1108" y="37" width="81" height="1" fill="#000"/>
<rect x="1108" y="128" width="81" height="1" fill="#000"/>
<rect x="1108" y="37" width="1" height="92" fill="#000"/>
<rect x="1188" y="37" width="1" height="92" fill="#000"/>
<rect x="1108" y="60" width="81" height="1" fill="#000"/>
</g>
<text font-size="13" x="1146.96" y="53.32" text-anchor="middle">RS</text>
<text font-size="8.9" x="1112.09" y="74.7">Entries</text>
<text font-size="8.9" x="1179.93" y="74.7" text-anchor="end">11333</text>
<text font-size="8.9" x="1112.09" y="97.8">Mean</text>
<text font-size="8.9" x="1179.93" y="97.8" text-anchor="end">47.88</text>
<text font-size="8.9" x="1112.09" y="120.8">RMS</text>
<text font-size="8.9" x="1179.93" y="120.8" text-anchor="end">19.7</text>
</svg>
</body></html>
